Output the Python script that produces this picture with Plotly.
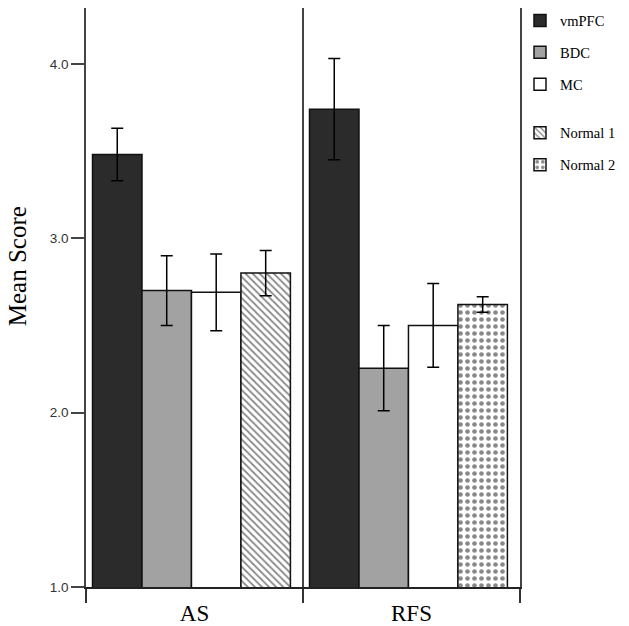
import plotly.graph_objects as go

categories = ["AS", "RFS"]
vmpfc_mean = [3.48, 3.74]
vmpfc_err = [0.15, 0.29]
bdc_mean = [2.70, 2.255]
bdc_err = [0.20, 0.245]
mc_mean = [2.69, 2.50]
mc_err = [0.22, 0.24]
normal1_cat = ["AS"]
normal1_mean = [2.80]
normal1_err = [0.13]
normal2_cat = ["RFS"]
normal2_mean = [2.62]
normal2_err = [0.045]
y_ticks = [1, 2, 3, 4]

BAR_W = 0.228
OFFS = [-0.47, -0.242, -0.014, 0.214]
LINE = dict(color="#111111", width=1.5)
ERR = dict(type="data", visible=True, color="#000000", thickness=1.5, width=6)

fig = go.Figure()

def add(name, cats, vals, errs, off, legend, marker):
    fig.add_trace(go.Bar(
        name=name, x=cats, y=vals, width=BAR_W, offset=off,
        marker=dict(line=LINE, **marker),
        error_y=dict(array=errs, **ERR),
        legend=legend, legendgroup=name, showlegend=True,
    ))

add("vmPFC", categories, vmpfc_mean, vmpfc_err, OFFS[0], "legend", dict(color="#2b2b2b"))
add("BDC", categories, bdc_mean, bdc_err, OFFS[1], "legend", dict(color="#a2a2a2"))
add("MC", categories, mc_mean, mc_err, OFFS[2], "legend", dict(color="#ffffff"))
add("Normal 1", normal1_cat, normal1_mean, normal1_err, OFFS[3], "legend2",
    dict(color="#ffffff", pattern=dict(shape="\\", fgcolor="#111111", bgcolor="#ffffff",
                                       size=5, solidity=0.35, fillmode="overlay")))
add("Normal 2", normal2_cat, normal2_mean, normal2_err, OFFS[3], "legend2",
    dict(color="#ffffff", pattern=dict(shape=".", fgcolor="#111111", bgcolor="#ffffff",
                                       size=7, solidity=0.35, fillmode="overlay")))

legend_common = dict(
    xanchor="left", yanchor="top", traceorder="grouped", tracegroupgap=10,
    font=dict(family="Liberation Serif, Times New Roman, serif", size=14.5, color="#000000"),
    bgcolor="rgba(0,0,0,0)", borderwidth=0,
)

fig.update_layout(
    width=629, height=626,
    margin=dict(l=86, r=109, t=8, b=39, autoexpand=False),
    paper_bgcolor="#ffffff", plot_bgcolor="#ffffff",
    barmode="overlay",
    showlegend=True,
    legend=dict(x=1.0, y=1.006, **legend_common),
    legend2=dict(x=1.0, y=0.812, **legend_common),
    xaxis=dict(
        type="category", categoryorder="array", categoryarray=categories,
        range=[-0.5, 1.5], tickson="boundaries", ticks="outside", ticklen=14,
        tickwidth=1.5, tickcolor="#333333",
        showline=True, linecolor="#222222", linewidth=1.5,
        showgrid=True, gridcolor="#444444", gridwidth=1.5,
        zeroline=False, ticklabelstandoff=5,
        tickfont=dict(family="Liberation Serif, Times New Roman, serif", size=23, color="#000000"),
        automargin=False,
    ),
    yaxis=dict(
        range=[1, 4.32], tickvals=y_ticks, tickformat=".1f",
        ticks="outside", ticklen=13, tickwidth=1.5, tickcolor="#444444",
        showline=True, linecolor="#444444", linewidth=1.5, mirror=True,
        showgrid=False, zeroline=False,
        tickfont=dict(family="Liberation Sans, Arial, sans-serif", size=13.5, color="#333333"),
        automargin=False,
    ),
    annotations=[dict(
        text="Mean Score", xref="paper", yref="paper",
        x=-0.159, y=0.554, xanchor="center", yanchor="middle",
        textangle=-90, showarrow=False,
        font=dict(family="Liberation Serif, Times New Roman, serif", size=25, color="#000000"),
    )],
)

fig.write_html("out.html", config={"displayModeBar": False},
               post_script="document.body.style.margin='0';")
